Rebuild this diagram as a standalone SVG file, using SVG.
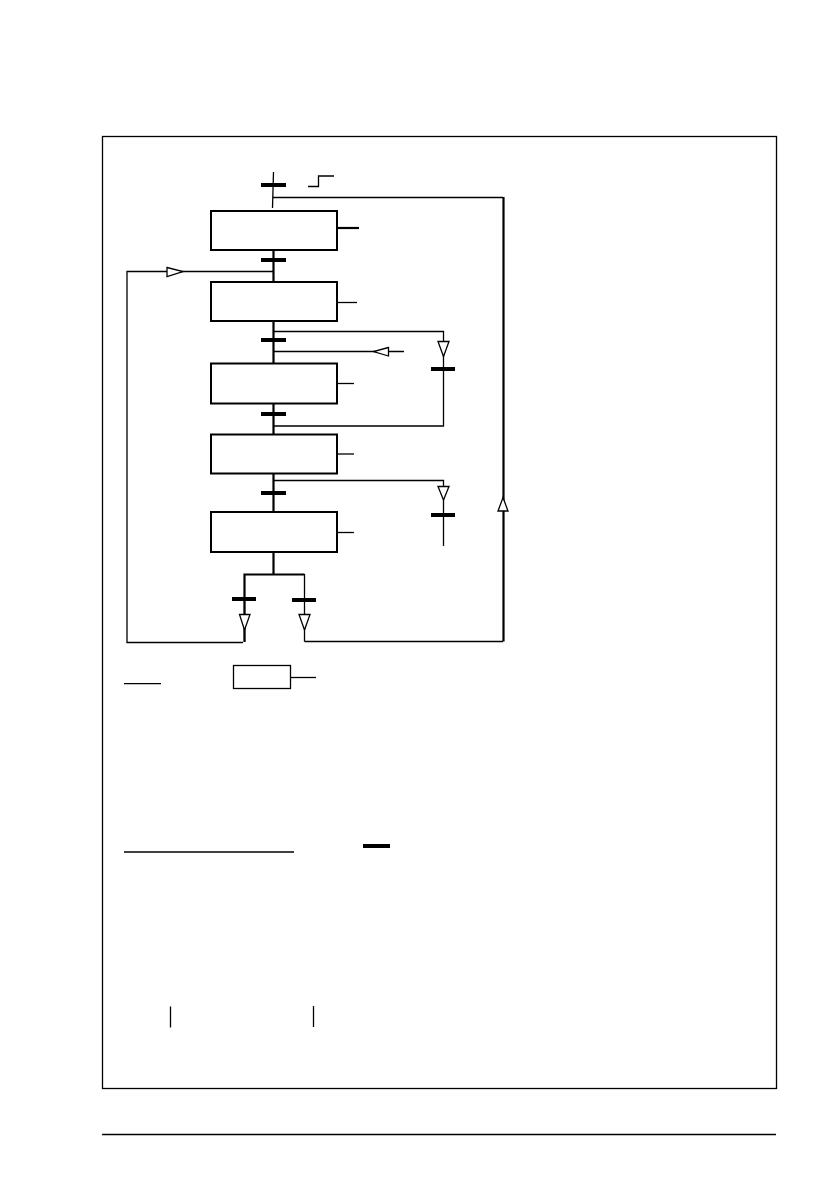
<svg xmlns="http://www.w3.org/2000/svg" width="838" height="1192" viewBox="0 0 838 1192">
<style>
.ln{stroke:#000;stroke-width:1.3;fill:none}
.thk{stroke:#000;stroke-width:2.2;fill:none}
.box{stroke:#000;stroke-width:2;fill:#fff}
.bar{fill:#000}
.arr{fill:#fff;stroke:#000;stroke-width:1.3}
</style>
<rect width="838" height="1192" fill="#fff"/>
<rect id="frame" x="102.5" y="136.5" width="674" height="952" fill="none" stroke="#000" stroke-width="1.3"/>
<line x1="102" y1="1134.5" x2="776" y2="1134.5" stroke="#000" stroke-width="1.5"/>
<g id="connectors">
  <line class="ln" x1="273.5" y1="172" x2="272.5" y2="208"/>
  <polyline class="ln" points="308,186.5 318.5,186.5 318.5,176 334,176"/>
  <polyline class="ln" points="273,197.5 503,197.5"/>
  <line class="thk" x1="503.5" y1="197" x2="503.5" y2="641.5"/>
  <line class="thk" x1="273.5" y1="251" x2="273.5" y2="282"/>
  <polyline class="ln" points="273,271.5 127,271.5 127,642.5 243,642.5"/>
  <line class="thk" x1="273.5" y1="321" x2="273.5" y2="364"/>
  <polyline class="ln" points="273,331.5 443.5,331.5 443.5,426 273,426"/>
  <line class="ln" x1="273" y1="351.5" x2="404" y2="351.5"/>
  <line class="thk" x1="273.5" y1="403" x2="273.5" y2="435"/>
  <line class="thk" x1="273.5" y1="473" x2="273.5" y2="512"/>
  <polyline class="ln" points="273,480.5 443.5,480.5 443.5,546"/>
  <line class="thk" x1="273.5" y1="552" x2="273.5" y2="575"/>
  <polyline class="thk" points="244.5,642 244.5,574.5 304.5,574.5"/>
  <line class="ln" x1="304.5" y1="574" x2="304.5" y2="641.5"/>
  <polyline class="ln" points="304.5,641.5 503,641.5"/>
  <line class="ln" x1="244.5" y1="600" x2="244.5" y2="642"/>
  <rect class="bar" x="261" y="183" width="25" height="4"/>
  <rect class="bar" x="261" y="258" width="25" height="4"/>
  <rect class="bar" x="261" y="338" width="25" height="4"/>
  <rect class="bar" x="261" y="412" width="25" height="4"/>
  <rect class="bar" x="261" y="491" width="25" height="4"/>
  <rect class="bar" x="431" y="367" width="24" height="4"/>
  <rect class="bar" x="431" y="513" width="24" height="4"/>
  <rect class="bar" x="232" y="597" width="24" height="4"/>
  <rect class="bar" x="292" y="598" width="24" height="4"/>
  <polygon class="arr" points="167,267.5 183,271.5 167,276.5"/>
  <polygon class="arr" points="388.5,347.5 373.5,351.5 388.5,356"/>
  <polygon class="arr" points="438,341.5 449,341.5 443.5,356.5"/>
  <polygon class="arr" points="438,486.5 449,486.5 443.5,500"/>
  <polygon class="arr" points="239.5,614.5 250,614.5 244.5,630"/>
  <polygon class="arr" points="299,614.5 310,614.5 304.5,630"/>
  <polygon class="arr" points="498,511 508,511 503,497.5"/>
</g>
<g id="step1"><rect class="box" x="211" y="211" width="126" height="39"/><line class="thk" x1="337" y1="228" x2="359" y2="228"/></g>
<g id="step2"><rect class="box" x="211" y="282" width="126" height="39"/><line class="ln" x1="337" y1="302.5" x2="357" y2="302.5"/></g>
<g id="step3"><rect class="box" x="211" y="363.5" width="126" height="40"/><line class="ln" x1="337" y1="383.5" x2="354" y2="383.5"/></g>
<g id="step4"><rect class="box" x="211" y="434.5" width="126" height="39"/><line class="ln" x1="337" y1="454" x2="354" y2="454"/></g>
<g id="step5"><rect class="box" x="211" y="512" width="126" height="40"/><line class="ln" x1="337" y1="532.5" x2="354" y2="532.5"/></g>
<g id="legend">
  <rect x="233.5" y="665.5" width="57" height="23" fill="#fff" stroke="#000" stroke-width="1.3"/>
  <line class="ln" x1="290.5" y1="677.5" x2="316" y2="677.5"/>
  <line class="ln" x1="124" y1="683.7" x2="161" y2="683.7"/>
  <line class="ln" x1="124" y1="852" x2="294" y2="852"/>
  <rect class="bar" x="363" y="844" width="27" height="4"/>
  <line class="ln" x1="170.5" y1="1006.5" x2="170.5" y2="1027.5"/>
  <line class="ln" x1="313.5" y1="1006" x2="313.5" y2="1027"/>
</g>
</svg>
